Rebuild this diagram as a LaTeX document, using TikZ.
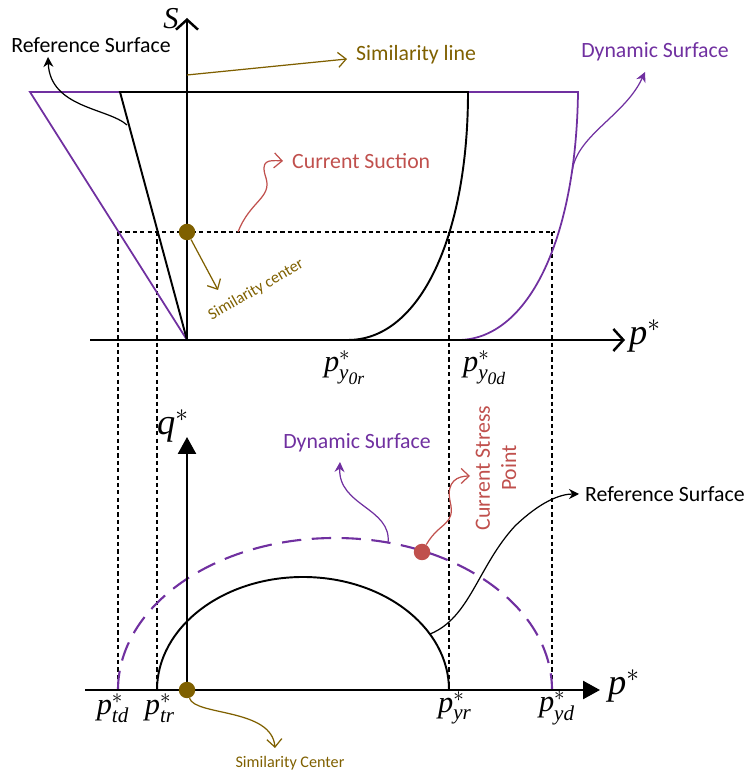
\documentclass[tikz,border=0pt]{standalone}
\usepackage{amsmath}
\usepackage{fontspec}
\setmainfont{Carlito}
\newfontfamily\tms{Liberation Serif}
\usetikzlibrary{arrows.meta,positioning,calc}
\definecolor{SPurple}{HTML}{7030A0}
\definecolor{SBrown}{HTML}{7F6000}
\definecolor{SRed}{HTML}{C0504D}
\newcommand{\tv}[1]{\text{\tms\itshape #1}}

\begin{document}
\begin{tikzpicture}[x=0.02cm,y=0.02cm,
    axisopen/.style={line width=1.4pt,-{Straight Barb[length=2mm,width=4.4mm,line width=1.4pt]}},
    axisfill/.style={line width=1.4pt,-{Triangle[length=3.4mm,width=3.6mm]}},
    refline/.style={black,line width=1.1pt},
    dynline/.style={SPurple,line width=1pt},
    guide/.style={line width=0.6pt,dash pattern=on 2.4pt off 1.8pt},
    openarrow/.style={line width=0.7pt,-{Straight Barb[length=1.6mm,width=3mm]}},
    tiparrow/.style={line width=0.7pt,-{Stealth[length=2mm,width=2mm]}},
    dot/.style={circle,inner sep=0pt,minimum size=3.3mm},
    lbl/.style={font=\fontsize{12.4}{15}\selectfont},
    smalllbl/.style={font=\fontsize{9.2}{11}\selectfont}]
    \useasboundingbox (0,0) rectangle (747,776);

    % upper diagram: S against p*
    \coordinate (O1) at (187,436);
    \coordinate (refTL) at (120,684);
    \coordinate (refTR) at (468,684);
    \coordinate (dynTL) at (30,684);
    \coordinate (dynTR) at (578,684);
    \coordinate (ref0) at (348,436);
    \coordinate (dyn0) at (458,436);

    \foreach \x in {118,157,449,552}
      \draw[guide] (\x,544) -- (\x,86);
    \draw[guide] (118,544) -- (555,544);

    \draw[dynline] (refTL) -- (dynTL) -- (O1);
    \draw[dynline] (refTR) -- (dynTR) .. controls (576,532) and (526,436) .. (dyn0);
    \draw[refline] (O1) -- (refTL) -- (refTR) .. controls (468,540) and (420,436) .. (ref0);

    \draw[axisopen] (O1) -- (187,758);
    \draw[axisopen] (90,436) -- (625,436);
    \node (S) at (171,757) {\LARGE $\tv{S}$};
    \node (pTop) at (645,440) {\huge $\tv{p}^{*}$};
    \node (py0r) at (345,408) {\LARGE $\tv{p}^{*}_{\tv{y}_{\tv{0r}}}$};
    \node (py0d) at (485,408) {\LARGE $\tv{p}^{*}_{\tv{y}_{\tv{0d}}}$};

    \node[dot,fill=SBrown] (sc1) at (187,544) {};
    \coordinate (sc1end) at (218,486);
    \draw[openarrow,SBrown] (sc1) -- (sc1end);
    \node[smalllbl,rotate=30,text=SBrown] (sc1txt) at (256,486) {Similarity center};

    \coordinate (sl0) at (187,701);
    \node[lbl,anchor=west,text=SBrown] (sltxt) at (350,721) {Similarity line};
    \draw[openarrow,SBrown] (sl0) -- ($(sltxt.west)+(-3,-4)$);

    \coordinate (cs0) at (238,544);
    \node[lbl,anchor=west,text=SRed] (cs) at (286,615) {Current Suction};
    \draw[openarrow,SRed] (cs0) .. controls (250,575) and (272,578) .. (266,598)
      .. controls (260,616) and (268,616) .. ($(cs.west)+(-3,0)$);

    \node[lbl] (rs1) at (91,731) {Reference Surface};
    \coordinate (rs1s) at (127,651);
    \draw[tiparrow] (rs1s) .. controls (108,668) and (50,668) .. (48,719);

    \node[lbl,text=SPurple] (ds1) at (655,724) {Dynamic Surface};
    \coordinate (ds1s) at (572,603);
    \draw[tiparrow,SPurple] (ds1s) .. controls (575,640) and (625,660) .. (645,704);

    % lower diagram: q* against p*
    \coordinate (O2) at (187,86);
    \draw[refline] (157,86) arc[start angle=180,end angle=0,x radius=146,y radius=113];
    \draw[dynline,line width=1.2pt,dash pattern=on 11pt off 6pt] (118,86) arc[start angle=180,end angle=0,x radius=217,y radius=152];
    \draw[axisfill] (O2) -- (187,339);
    \draw[axisfill] (85,86) -- (600,86);
    \node (q) at (173,350) {\huge $\tv{q}^{*}$};
    \node (pBot) at (624,90) {\huge $\tv{p}^{*}$};
    \node (ptd) at (113,68) {\LARGE $\tv{p}^{*}_{\tv{td}}$};
    \node (ptr) at (160,68) {\LARGE $\tv{p}^{*}_{\tv{tr}}$};
    \node (pyr) at (455,68) {\LARGE $\tv{p}^{*}_{\tv{yr}}$};
    \node (pyd) at (557,68) {\LARGE $\tv{p}^{*}_{\tv{yd}}$};

    \node[dot,fill=SRed] (csp) at (422,224) {};
    \node[lbl,rotate=90,align=center,text=SRed] (csptxt) at (496,308) {Current Stress\\Point};
    \coordinate (csp1) at (470,300);
    \draw[openarrow,SRed] (csp) .. controls (440,255) and (456,250) .. (450,275)
      .. controls (446,295) and (458,300) .. (csp1);

    \node[lbl,text=SPurple] (ds2) at (357,333) {Dynamic Surface};
    \coordinate (ds2s) at (388,233);
    \draw[tiparrow,SPurple] (ds2s) .. controls (392,268) and (338,270) .. (340,314);

    \node[lbl,anchor=west] (rs2) at (579,282) {Reference Surface};
    \coordinate (rs2s) at (430,142);
    \draw[tiparrow] (rs2s) .. controls (470,158) and (478,210) .. (515,250)
      .. controls (540,274) and (560,282) .. (rs2.west);

    \node[dot,fill=SBrown] (sc2) at (O2) {};
    \node[smalllbl,text=SBrown] (sc2txt) at (290,13) {Similarity Center};
    \coordinate (sc2end) at (275,28);
    \draw[openarrow,SBrown] (sc2) .. controls (195,60) and (272,68) .. (sc2end);
\end{tikzpicture}
\end{document}
